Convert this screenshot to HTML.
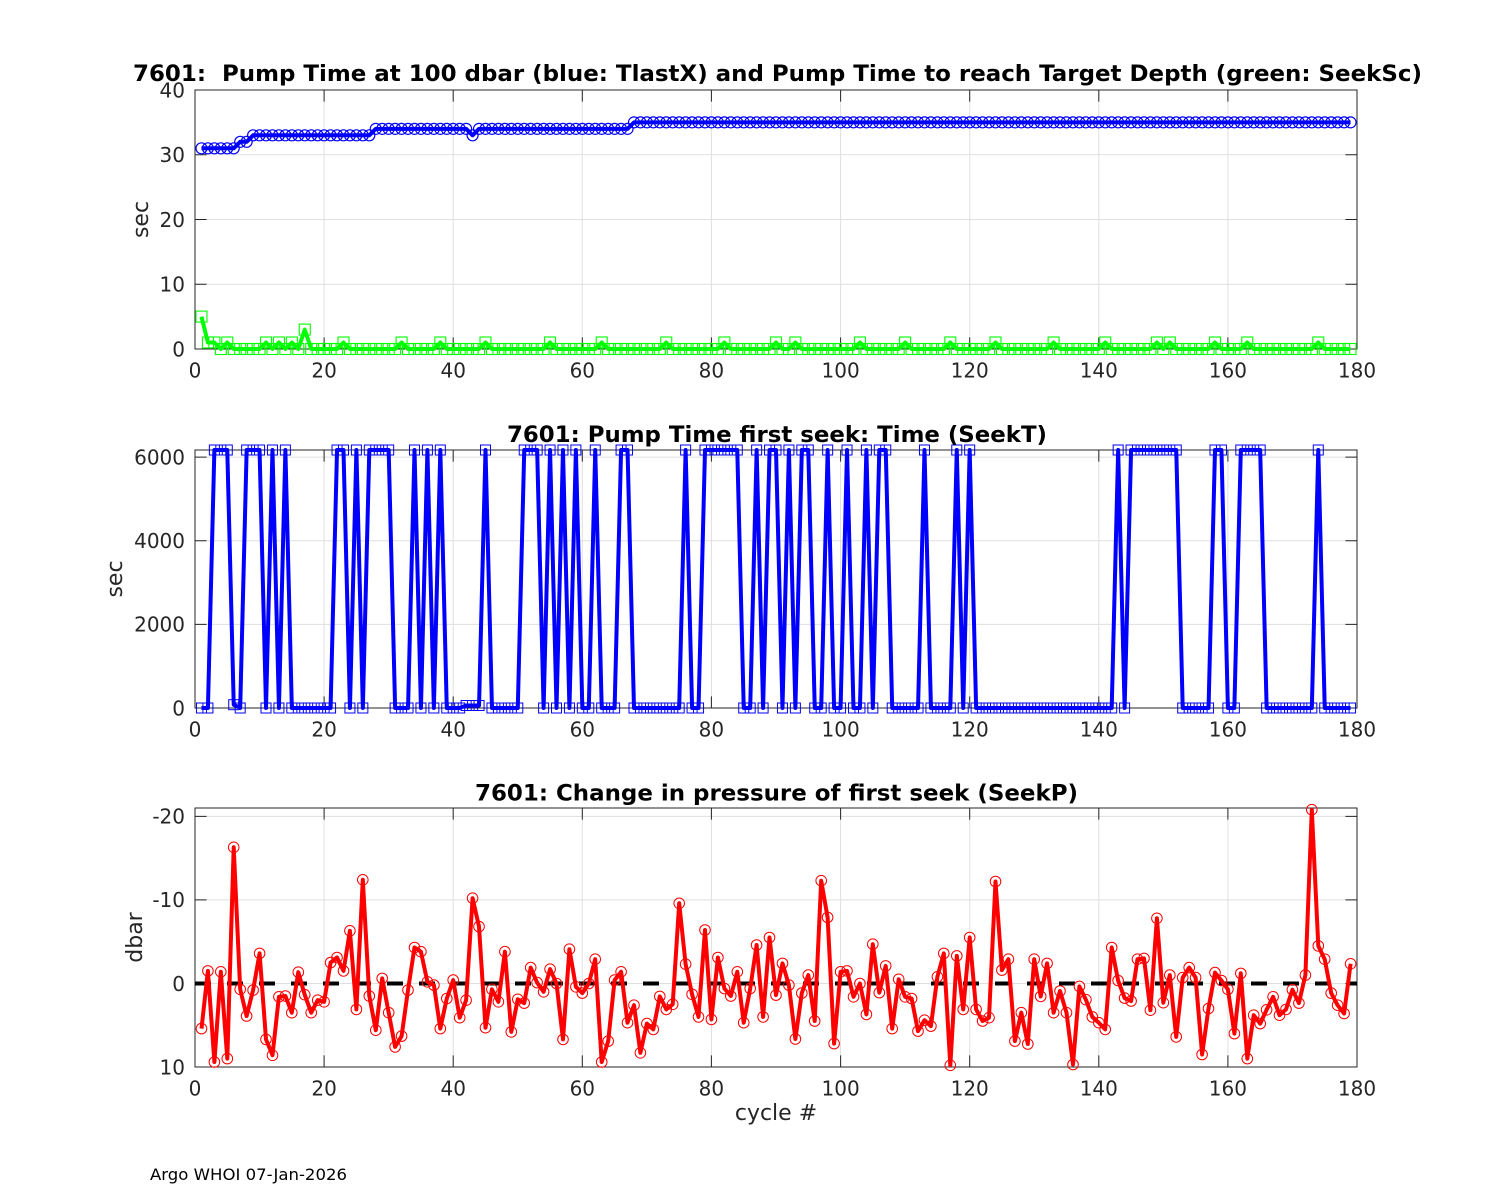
<!DOCTYPE html>
<html>
<head>
<meta charset="utf-8">
<style>
html,body{margin:0;padding:0;background:#fff;}
svg{display:block;}
text{font-family:"DejaVu Sans","Liberation Sans",sans-serif;}
.tk{font-size:20px;fill:#262626;}
.ttl{font-size:22px;font-weight:bold;fill:#000;white-space:pre;}
.lbl{font-size:22px;fill:#262626;}
</style>
</head>
<body>
<svg width="1500" height="1200" viewBox="0 0 1500 1200" xmlns="http://www.w3.org/2000/svg">
<defs>
<marker id="bc" markerUnits="userSpaceOnUse" markerWidth="16" markerHeight="16" refX="8" refY="8" overflow="visible"><circle cx="8" cy="8" r="5.5" fill="none" stroke="#0000ff" stroke-width="1.2"/></marker>
<marker id="gs" markerUnits="userSpaceOnUse" markerWidth="16" markerHeight="16" refX="8" refY="8" overflow="visible"><rect x="2.5" y="2.5" width="11" height="11" fill="none" stroke="#00ff00" stroke-width="1.1"/></marker>
<marker id="bs" markerUnits="userSpaceOnUse" markerWidth="14" markerHeight="14" refX="7" refY="7" overflow="visible"><rect x="2" y="2" width="10" height="10" fill="none" stroke="#0000ff" stroke-width="1"/></marker>
<marker id="rc" markerUnits="userSpaceOnUse" markerWidth="14" markerHeight="14" refX="7" refY="7" overflow="visible"><circle cx="7" cy="7" r="5.3" fill="none" stroke="#ff0000" stroke-width="1"/></marker>
</defs>
<rect width="1500" height="1200" fill="#fff"/>

<!-- ================= TOP PLOT ================= -->
<path fill="none" stroke="#dfdfdf" stroke-width="1" d="M324.1,90V349 M453.2,90V349 M582.3,90V349 M711.4,90V349 M840.6,90V349 M969.7,90V349 M1098.8,90V349 M1227.9,90V349 M195,284.25H1357 M195,219.5H1357 M195,154.75H1357"/>
<rect x="195" y="90" width="1162" height="259" fill="none" stroke="#262626" stroke-width="1"/>
<path fill="none" stroke="#262626" stroke-width="1" d="M324.1,349v-11.6 M453.2,349v-11.6 M582.3,349v-11.6 M711.4,349v-11.6 M840.6,349v-11.6 M969.7,349v-11.6 M1098.8,349v-11.6 M1227.9,349v-11.6 M324.1,90v11.6 M453.2,90v11.6 M582.3,90v11.6 M711.4,90v11.6 M840.6,90v11.6 M969.7,90v11.6 M1098.8,90v11.6 M1227.9,90v11.6 M195,284.25h11.6 M195,219.5h11.6 M195,154.75h11.6 M1357,284.25h-11.6 M1357,219.5h-11.6 M1357,154.75h-11.6"/>

<path fill="none" stroke="#0000ff" stroke-width="4" stroke-linejoin="round" marker-start="url(#bc)" marker-mid="url(#bc)" marker-end="url(#bc)" d="M201.46,148.3
h6.4556 h6.4556 h6.4556 h6.4556 h6.4556
l6.4556,-6.5 h6.4556 l6.4556,-6.5
h6.4556 h6.4556 h6.4556 h6.4556 h6.4556 h6.4556 h6.4556 h6.4556 h6.4556 h6.4556
h6.4556 h6.4556 h6.4556 h6.4556 h6.4556 h6.4556 h6.4556 h6.4556
l6.4556,-6.45
h6.4556 h6.4556 h6.4556 h6.4556 h6.4556 h6.4556 h6.4556 h6.4556 h6.4556 h6.4556
h6.4556 h6.4556 h6.4556 h6.4556
l6.4556,6.45 l6.4556,-6.45
h6.4556 h6.4556 h6.4556 h6.4556 h6.4556 h6.4556 h6.4556 h6.4556 h6.4556 h6.4556
h6.4556 h6.4556 h6.4556 h6.4556 h6.4556 h6.4556 h6.4556 h6.4556 h6.4556 h6.4556
h6.4556 h6.4556 h6.4556
l6.4556,-6.45
h6.4556 h6.4556 h6.4556 h6.4556 h6.4556 h6.4556 h6.4556 h6.4556 h6.4556 h6.4556
h6.4556 h6.4556 h6.4556 h6.4556 h6.4556 h6.4556 h6.4556 h6.4556 h6.4556 h6.4556
h6.4556 h6.4556 h6.4556 h6.4556 h6.4556 h6.4556 h6.4556 h6.4556 h6.4556 h6.4556
h6.4556 h6.4556 h6.4556 h6.4556 h6.4556 h6.4556 h6.4556 h6.4556 h6.4556 h6.4556
h6.4556 h6.4556 h6.4556 h6.4556 h6.4556 h6.4556 h6.4556 h6.4556 h6.4556 h6.4556
h6.4556 h6.4556 h6.4556 h6.4556 h6.4556 h6.4556 h6.4556 h6.4556 h6.4556 h6.4556
h6.4556 h6.4556 h6.4556 h6.4556 h6.4556 h6.4556 h6.4556 h6.4556 h6.4556 h6.4556
h6.4556 h6.4556 h6.4556 h6.4556 h6.4556 h6.4556 h6.4556 h6.4556 h6.4556 h6.4556
h6.4556 h6.4556 h6.4556 h6.4556 h6.4556 h6.4556 h6.4556 h6.4556 h6.4556 h6.4556
h6.4556 h6.4556 h6.4556 h6.4556 h6.4556 h6.4556 h6.4556 h6.4556 h6.4556 h6.4556
h6.4556 h6.4556 h6.4556 h6.4556 h6.4556 h6.4556 h6.4556 h6.4556 h6.4556 h6.4556
h6.4556"/>

<path fill="none" stroke="#00ff00" stroke-width="4" stroke-linejoin="round" marker-start="url(#gs)" marker-mid="url(#gs)" marker-end="url(#gs)" d="M201.46,316.6
l6.4556,25.9 h6.4556 l6.4556,6.5 l6.4556,-6.5 l6.4556,6.5
h6.4556 h6.4556 h6.4556 h6.4556
l6.4556,-6.5 l6.4556,6.5 l6.4556,-6.5 l6.4556,6.5 l6.4556,-6.5 l6.4556,6.5
l6.4556,-19.4 l6.4556,19.4
h6.4556 h6.4556 h6.4556 h6.4556
l6.4556,-6.5 l6.4556,6.5
h6.4556 h6.4556 h6.4556 h6.4556 h6.4556 h6.4556 h6.4556
l6.4556,-6.5 l6.4556,6.5
h6.4556 h6.4556 h6.4556 h6.4556
l6.4556,-6.5 l6.4556,6.5
h6.4556 h6.4556 h6.4556 h6.4556 h6.4556
l6.4556,-6.5 l6.4556,6.5
h6.4556 h6.4556 h6.4556 h6.4556 h6.4556 h6.4556 h6.4556 h6.4556
l6.4556,-6.5 l6.4556,6.5
h6.4556 h6.4556 h6.4556 h6.4556 h6.4556 h6.4556
l6.4556,-6.5 l6.4556,6.5
h6.4556 h6.4556 h6.4556 h6.4556 h6.4556 h6.4556 h6.4556 h6.4556
l6.4556,-6.5 l6.4556,6.5
h6.4556 h6.4556 h6.4556 h6.4556 h6.4556 h6.4556 h6.4556
l6.4556,-6.5 l6.4556,6.5
h6.4556 h6.4556 h6.4556 h6.4556 h6.4556 h6.4556
l6.4556,-6.5 l6.4556,6.5
h6.4556
l6.4556,-6.5 l6.4556,6.5
h6.4556 h6.4556 h6.4556 h6.4556 h6.4556 h6.4556 h6.4556 h6.4556
l6.4556,-6.5 l6.4556,6.5
h6.4556 h6.4556 h6.4556 h6.4556 h6.4556
l6.4556,-6.5 l6.4556,6.5
h6.4556 h6.4556 h6.4556 h6.4556 h6.4556
l6.4556,-6.5 l6.4556,6.5
h6.4556 h6.4556 h6.4556 h6.4556 h6.4556
l6.4556,-6.5 l6.4556,6.5
h6.4556 h6.4556 h6.4556 h6.4556 h6.4556 h6.4556 h6.4556
l6.4556,-6.5 l6.4556,6.5
h6.4556 h6.4556 h6.4556 h6.4556 h6.4556 h6.4556
l6.4556,-6.5 l6.4556,6.5
h6.4556 h6.4556 h6.4556 h6.4556 h6.4556 h6.4556
l6.4556,-6.5 l6.4556,6.5 l6.4556,-6.5 l6.4556,6.5
h6.4556 h6.4556 h6.4556 h6.4556 h6.4556
l6.4556,-6.5 l6.4556,6.5
h6.4556 h6.4556 h6.4556
l6.4556,-6.5 l6.4556,6.5
h6.4556 h6.4556 h6.4556 h6.4556 h6.4556 h6.4556 h6.4556 h6.4556 h6.4556
l6.4556,-6.5 l6.4556,6.5
h6.4556 h6.4556 h6.4556 h6.4556"/>

<text class="ttl" x="777.5" y="81" text-anchor="middle" textLength="1289" lengthAdjust="spacingAndGlyphs">7601:  Pump Time at 100 dbar (blue: TlastX) and Pump Time to reach Target Depth (green: SeekSc)</text>
<g class="tk" text-anchor="end">
<text x="185" y="356.3">0</text>
<text x="185" y="291.55">10</text>
<text x="185" y="226.8">20</text>
<text x="185" y="162.05">30</text>
<text x="185" y="97.3">40</text>
</g>
<g class="tk" text-anchor="middle">
<text x="195" y="377.5">0</text>
<text x="324.1" y="377.5">20</text>
<text x="453.2" y="377.5">40</text>
<text x="582.3" y="377.5">60</text>
<text x="711.4" y="377.5">80</text>
<text x="840.6" y="377.5">100</text>
<text x="969.7" y="377.5">120</text>
<text x="1098.8" y="377.5">140</text>
<text x="1227.9" y="377.5">160</text>
<text x="1357" y="377.5">180</text>
</g>
<text class="lbl" text-anchor="middle" transform="translate(148,219.5) rotate(-90)">sec</text>

<!-- ================= MIDDLE PLOT ================= -->
<path fill="none" stroke="#dfdfdf" stroke-width="1" d="M324.1,450V708 M453.2,450V708 M582.3,450V708 M711.4,450V708 M840.6,450V708 M969.7,450V708 M1098.8,450V708 M1227.9,450V708 M195,624.4H1357 M195,540.7H1357 M195,457.1H1357"/>
<rect x="195" y="450" width="1162" height="258" fill="none" stroke="#262626" stroke-width="1"/>
<path fill="none" stroke="#262626" stroke-width="1" d="M324.1,708v-11.6 M453.2,708v-11.6 M582.3,708v-11.6 M711.4,708v-11.6 M840.6,708v-11.6 M969.7,708v-11.6 M1098.8,708v-11.6 M1227.9,708v-11.6 M324.1,450v11.6 M453.2,450v11.6 M582.3,450v11.6 M711.4,450v11.6 M840.6,450v11.6 M969.7,450v11.6 M1098.8,450v11.6 M1227.9,450v11.6 M195,624.4h11.6 M195,540.7h11.6 M195,457.1h11.6 M1357,624.4h-11.6 M1357,540.7h-11.6 M1357,457.1h-11.6"/>

<path fill="none" stroke="#0000ff" stroke-width="4" stroke-linejoin="round" marker-start="url(#bs)" marker-mid="url(#bs)" marker-end="url(#bs)" d="M201.46,708
h6.4556 l6.4556,-258 h6.4556 h6.4556 l6.4556,254.7 l6.4556,3.3
l6.4556,-258 h6.4556 h6.4556
l6.4556,258 l6.4556,-258 l6.4556,258 l6.4556,-258 l6.4556,258
h6.4556 h6.4556 h6.4556 h6.4556 h6.4556 h6.4556
l6.4556,-258 h6.4556 l6.4556,258 l6.4556,-258 l6.4556,258 l6.4556,-258
h6.4556 h6.4556 h6.4556
l6.4556,258 h6.4556 h6.4556
l6.4556,-258 l6.4556,258 l6.4556,-258 l6.4556,258 l6.4556,-258 l6.4556,258
h6.4556 h6.4556 l6.4556,-2.5 h6.4556 h6.4556
l6.4556,-255.5 l6.4556,258
h6.4556 h6.4556 h6.4556 h6.4556
l6.4556,-258 h6.4556 h6.4556
l6.4556,258 l6.4556,-258 l6.4556,258 l6.4556,-258 l6.4556,258 l6.4556,-258 l6.4556,258
h6.4556 l6.4556,-258 l6.4556,258 h6.4556 h6.4556
l6.4556,-258 h6.4556 l6.4556,258
h6.4556 h6.4556 h6.4556 h6.4556 h6.4556 h6.4556 h6.4556
l6.4556,-258 l6.4556,258 h6.4556
l6.4556,-258 h6.4556 h6.4556 h6.4556 h6.4556 h6.4556
l6.4556,258 h6.4556
l6.4556,-258 l6.4556,258
l6.4556,-258 h6.4556 l6.4556,258
l6.4556,-258 l6.4556,258
l6.4556,-258 h6.4556 l6.4556,258 h6.4556
l6.4556,-258 l6.4556,258 h6.4556
l6.4556,-258 l6.4556,258 h6.4556
l6.4556,-258 l6.4556,258
l6.4556,-258 h6.4556 l6.4556,258
h6.4556 h6.4556 h6.4556 h6.4556
l6.4556,-258 l6.4556,258 h6.4556 h6.4556 h6.4556
l6.4556,-258 l6.4556,258 l6.4556,-258 l6.4556,258
h6.4556 h6.4556 h6.4556 h6.4556 h6.4556 h6.4556 h6.4556 h6.4556 h6.4556 h6.4556
h6.4556 h6.4556 h6.4556 h6.4556 h6.4556 h6.4556 h6.4556 h6.4556 h6.4556 h6.4556
h6.4556
l6.4556,-258 l6.4556,258
l6.4556,-258 h6.4556 h6.4556 h6.4556 h6.4556 h6.4556 h6.4556 h6.4556
l6.4556,258 h6.4556 h6.4556 h6.4556 h6.4556
l6.4556,-258 h6.4556 l6.4556,258 h6.4556
l6.4556,-258 h6.4556 h6.4556 h6.4556
l6.4556,258 h6.4556 h6.4556 h6.4556 h6.4556 h6.4556 h6.4556 h6.4556
l6.4556,-258 l6.4556,258
h6.4556 h6.4556 h6.4556 h6.4556"/>

<text class="ttl" x="777" y="442" text-anchor="middle" textLength="540" lengthAdjust="spacingAndGlyphs">7601: Pump Time first seek: Time (SeekT)</text>
<g class="tk" text-anchor="end">
<text x="185" y="715.3">0</text>
<text x="185" y="631.7">2000</text>
<text x="185" y="548">4000</text>
<text x="185" y="464.4">6000</text>
</g>
<g class="tk" text-anchor="middle">
<text x="195" y="736.5">0</text>
<text x="324.1" y="736.5">20</text>
<text x="453.2" y="736.5">40</text>
<text x="582.3" y="736.5">60</text>
<text x="711.4" y="736.5">80</text>
<text x="840.6" y="736.5">100</text>
<text x="969.7" y="736.5">120</text>
<text x="1098.8" y="736.5">140</text>
<text x="1227.9" y="736.5">160</text>
<text x="1357" y="736.5">180</text>
</g>
<text class="lbl" text-anchor="middle" transform="translate(122,579) rotate(-90)">sec</text>

<!-- ================= BOTTOM PLOT ================= -->
<path fill="none" stroke="#dfdfdf" stroke-width="1" d="M324.1,808V1067 M453.2,808V1067 M582.3,808V1067 M711.4,808V1067 M840.6,808V1067 M969.7,808V1067 M1098.8,808V1067 M1227.9,808V1067 M195,816.4H1357 M195,899.9H1357 M195,983.45H1357"/>
<rect x="195" y="808" width="1162" height="259" fill="none" stroke="#262626" stroke-width="1"/>
<path fill="none" stroke="#262626" stroke-width="1" d="M324.1,1067v-11.6 M453.2,1067v-11.6 M582.3,1067v-11.6 M711.4,1067v-11.6 M840.6,1067v-11.6 M969.7,1067v-11.6 M1098.8,1067v-11.6 M1227.9,1067v-11.6 M324.1,808v11.6 M453.2,808v11.6 M582.3,808v11.6 M711.4,808v11.6 M840.6,808v11.6 M969.7,808v11.6 M1098.8,808v11.6 M1227.9,808v11.6 M195,816.4h11.6 M195,899.9h11.6 M195,983.45h11.6 M1357,816.4h-11.6 M1357,899.9h-11.6 M1357,983.45h-11.6"/>

<line x1="195" y1="983.45" x2="1357" y2="983.45" stroke="#000" stroke-width="4" stroke-dasharray="16 16"/>

<polyline fill="none" stroke="#ff0000" stroke-width="4" stroke-linejoin="round" marker-start="url(#rc)" marker-mid="url(#rc)" marker-end="url(#rc)" points="
201.5,1028.6 207.9,970.9 214.4,1062.0 220.8,971.8 227.3,1058.6 233.7,847.3 240.2,989.3 246.6,1016.0 253.1,990.1 259.6,953.4
266.0,1039.4 272.5,1055.3 278.9,996.8 285.4,996.0 291.8,1012.7 298.3,972.2 304.7,994.7 311.2,1012.7 317.7,1000.2 324.1,1001.8
330.6,962.6 337.0,957.5 343.5,970.9 349.9,930.8 356.4,1009.4 362.8,879.8 369.3,996.0 375.8,1030.2 382.2,978.4 388.7,1012.7
395.1,1046.9 401.6,1036.1 408.0,990.1 414.5,947.5 420.9,951.7 427.4,981.8 433.9,985.1 440.3,1028.6 446.8,998.5 453.2,980.1
459.7,1017.7 466.1,1000.2 472.6,898.2 479.0,926.6 485.5,1027.7 491.9,989.3 498.4,1001.8 504.9,951.7 511.3,1031.9 517.8,999.3
524.2,1003.1 530.7,967.6 537.1,982.6 543.6,991.8 550.1,969.2 556.5,983.5 563.0,1039.4 569.4,949.2 575.9,986.8 582.3,993.1
588.8,983.5 595.2,959.2 601.7,1062.0 608.2,1041.1 614.6,980.1 621.1,971.8 627.5,1022.7 634.0,1005.2 640.4,1052.8 646.9,1023.6
653.3,1029.4 659.8,996.4 666.3,1009.4 672.7,1004.3 679.2,903.3 685.6,964.2 692.1,994.3 698.5,1016.9 705.0,930.0 711.4,1019.4
717.9,957.5 724.4,988.5 730.8,996.0 737.3,971.8 743.7,1022.7 750.2,988.5 756.6,945.0 763.1,1016.9 769.5,937.5 776.0,995.1
782.5,963.4 788.9,985.1 795.4,1039.0 801.8,993.1 808.3,975.1 814.7,1021.0 821.2,880.7 827.6,917.4 834.1,1043.6 840.6,971.8
847.0,970.9 853.5,996.8 859.9,983.5 866.4,1014.4 872.8,944.2 879.3,992.6 885.7,965.9 892.2,1028.6 898.7,979.3 905.1,996.8
911.6,998.5 918.0,1031.1 924.5,1020.2 930.9,1026.1 937.4,976.8 943.8,953.4 950.3,1065.3 956.8,955.9 963.2,1009.4 969.7,937.5
976.1,1009.4 982.6,1021.0 989.0,1017.7 995.5,881.5 1001.9,970.1 1008.4,959.2 1014.9,1041.1 1021.3,1012.7 1027.8,1044.0 1034.2,959.2
1040.7,996.4 1047.1,963.4 1053.6,1012.7 1060.0,991.0 1066.5,1012.7 1073.0,1064.5 1079.4,986.4 1085.9,999.7 1092.3,1016.9 1098.8,1022.7
1105.2,1029.4 1111.7,947.5 1118.1,980.5 1124.6,998.1 1131.1,1001.0 1137.5,959.2 1144.0,958.4 1150.4,1010.2 1156.9,918.3 1163.3,1002.7
1169.8,975.1 1176.2,1036.9 1182.7,977.6 1189.2,967.6 1195.6,977.6 1202.1,1054.5 1208.5,1008.5 1215.0,972.6 1221.4,980.5 1227.9,989.3
1234.4,1033.6 1240.8,973.4 1247.3,1058.6 1253.7,1015.2 1260.2,1023.6 1266.6,1009.8 1273.1,996.8 1279.5,1015.2 1286.0,1009.4 1292.4,989.7
1298.9,1003.1 1305.4,975.1 1311.8,809.7 1318.3,945.9 1324.7,959.2 1331.2,993.1 1337.6,1005.2 1344.1,1013.5 1350.6,963.8"/>

<text class="ttl" x="776.5" y="800.5" text-anchor="middle" textLength="603" lengthAdjust="spacingAndGlyphs">7601: Change in pressure of first seek (SeekP)</text>
<g class="tk" text-anchor="end">
<text x="185" y="823.7">-20</text>
<text x="185" y="907.2">-10</text>
<text x="185" y="990.75">0</text>
<text x="185" y="1074.3">10</text>
</g>
<g class="tk" text-anchor="middle">
<text x="195" y="1095.5">0</text>
<text x="324.1" y="1095.5">20</text>
<text x="453.2" y="1095.5">40</text>
<text x="582.3" y="1095.5">60</text>
<text x="711.4" y="1095.5">80</text>
<text x="840.6" y="1095.5">100</text>
<text x="969.7" y="1095.5">120</text>
<text x="1098.8" y="1095.5">140</text>
<text x="1227.9" y="1095.5">160</text>
<text x="1357" y="1095.5">180</text>
</g>
<text class="lbl" text-anchor="middle" transform="translate(142,937.5) rotate(-90)">dbar</text>
<text class="lbl" x="776" y="1120" text-anchor="middle">cycle #</text>

<text x="150" y="1180" font-size="16" fill="#000" textLength="197" lengthAdjust="spacingAndGlyphs">Argo WHOI 07-Jan-2026</text>
</svg>
</body>
</html>
